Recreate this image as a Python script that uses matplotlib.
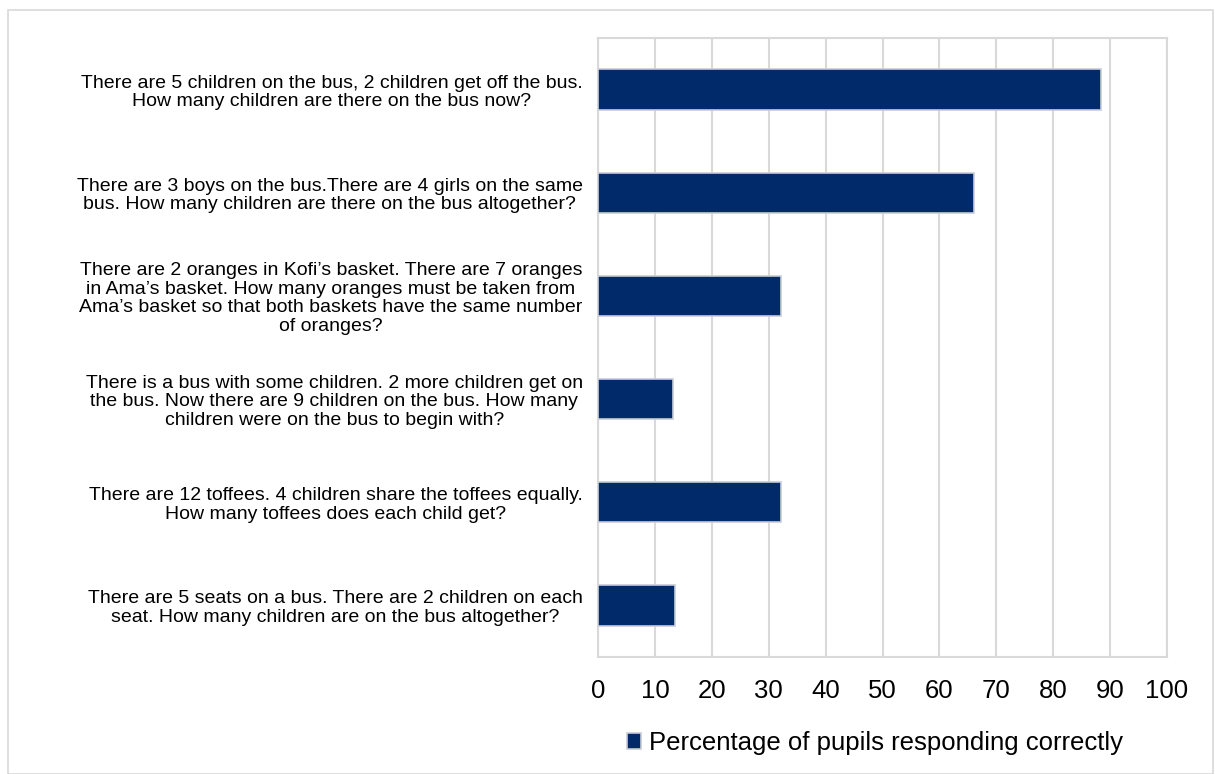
import matplotlib.pyplot as plt
from matplotlib.patches import Rectangle

plt.rcParams["font.family"] = ["Liberation Sans", "DejaVu Sans"]

questions = [
    "There are 5 children on the bus, 2 children get off the bus.\nHow many children are there on the bus now?",
    "There are 3 boys on the bus.There are 4 girls on the same\nbus. How many children are there on the bus altogether?",
    "There are 2 oranges in Kofi\u2019s basket. There are 7 oranges\nin Ama\u2019s basket. How many oranges must be taken from\nAma\u2019s basket so that both baskets have the same number\nof oranges?",
    "There is a bus with some children. 2 more children get on\nthe bus. Now there are 9 children on the bus. How many\nchildren were on the bus to begin with?",
    "There are 12 toffees. 4 children share the toffees equally.\nHow many toffees does each child get?",
    "There are 5 seats on a bus. There are 2 children on each\nseat. How many children are on the bus altogether?",
]
pct_correct = [88.4, 66.1, 32.1, 13.2, 32.2, 13.5]
series_name = "Percentage of pupils responding correctly"
x_ticks = list(range(0, 101, 10))

navy = "#002A6A"
grid_col = "#D9D9D9"

fig = plt.figure(figsize=(12.15, 7.74), dpi=100)
ax = fig.add_axes([598 / 1215, 1 - 657 / 774, (1167 - 598) / 1215, (657 - 38) / 774])

pos = list(range(len(questions)))[::-1]
ax.barh(pos, pct_correct, height=0.39, color=navy, edgecolor="#C8CCD6",
        linewidth=1.2, label=series_name, zorder=3)

ax.set_xlim(0, 100)
ax.set_ylim(-0.5, len(questions) - 0.5)
ax.set_xticks(x_ticks)
ax.tick_params(axis="x", length=0, labelsize=18.5, pad=16)
ax.tick_params(axis="y", length=0, labelsize=14, pad=11)
ax.set_yticks(pos)
ax.set_yticklabels(questions)
for t in ax.get_yticklabels():
    t.set_multialignment("center")
    t.set_linespacing(1.12)

ax.grid(axis="x", color=grid_col, linewidth=1.5, zorder=0)
for s in ax.spines.values():
    s.set_color(grid_col)
    s.set_linewidth(1.5)

leg = fig.legend(loc="center", bbox_to_anchor=(875 / 1215, 1 - 743 / 774),
                 frameon=False, fontsize=18.5, handlelength=0.55,
                 handleheight=0.55, handletextpad=0.3)

# outer chart frame
fig.patches.append(Rectangle((8 / 1215, 0), 1 - 10 / 1215, 1 - 10 / 774,
                             transform=fig.transFigure, fill=False,
                             edgecolor=grid_col, linewidth=1.2))

fig.savefig("out.png", dpi=100)
